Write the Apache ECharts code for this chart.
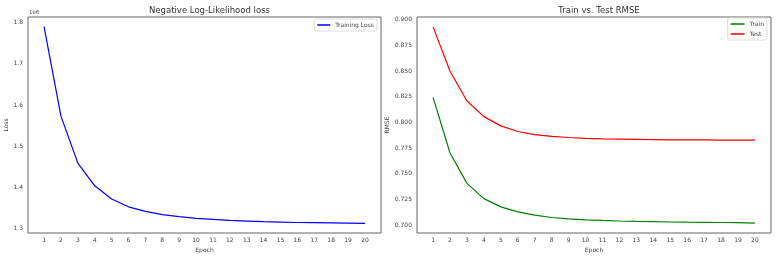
<!DOCTYPE html>
<html>
<head>
<meta charset="utf-8">
<script src="https://cdn.jsdelivr.net/npm/echarts@6/dist/echarts.min.js"></script>
<style>html,body{margin:0;padding:0;background:#fff}#c{width:777px;height:259px}</style>
</head>
<body>
<div id="c"></div>
<script>
const epochs = [1,2,3,4,5,6,7,8,9,10,11,12,13,14,15,16,17,18,19,20];
const trainingLoss = [1.790,1.573,1.459,1.404,1.372,1.353,1.342,1.334,1.329,1.325,1.3225,1.320,1.3185,1.317,1.316,1.315,1.3145,1.314,1.3135,1.313];
const trainRmse = [0.8243,0.7702,0.7406,0.7258,0.7177,0.7129,0.7097,0.7074,0.7060,0.7051,0.7045,0.7040,0.7036,0.7033,0.7030,0.7028,0.7027,0.7025,0.7024,0.7020];
const testRmse = [0.8930,0.8498,0.8208,0.8056,0.7966,0.7911,0.7880,0.7863,0.7853,0.7844,0.7840,0.7837,0.7834,0.7832,0.7830,0.7829,0.7829,0.7828,0.7828,0.7828];
const lossTicks = [1.3,1.4,1.5,1.6,1.7,1.8];
const rmseTicks = [0.700,0.725,0.750,0.775,0.800,0.825,0.850,0.875,0.900];

const font = 'DejaVu Sans';
const tickLabel = {fontFamily: font, fontSize: 6, color: '#444'};
function pairs(ys){ return epochs.map((e,i)=>[e, ys[i]]); }
function xAxis(gi){
  return {type:'value', gridIndex:gi, min:0.05, max:20.95,
    axisLine:{show:false}, axisTick:{show:false}, splitLine:{show:false},
    axisLabel:Object.assign({customValues:epochs, margin:4}, tickLabel),
    name:'Epoch', nameLocation:'middle', nameGap:12,
    nameTextStyle:{fontFamily:font, fontSize:6, color:'#444'}};
}
const chart = echarts.init(document.getElementById('c'), null, {renderer:'canvas'});
chart.setOption({
  animation:false,
  backgroundColor:'#fff',
  title:[
    {text:'Negative Log-Likelihood loss', left:204.5, top:1, textAlign:'center',
     textStyle:{fontFamily:font, fontSize:8.5, fontWeight:'normal', color:'#333'}},
    {text:'Train vs. Test RMSE', left:594, top:1, textAlign:'center',
     textStyle:{fontFamily:font, fontSize:8.5, fontWeight:'normal', color:'#333'}}
  ],
  grid:[
    {left:28, right:396, top:17, bottom:26, show:true, borderColor:'#666', borderWidth:1, backgroundColor:'#fff'},
    {left:417, right:6, top:17, bottom:26, show:true, borderColor:'#666', borderWidth:1, backgroundColor:'#fff'}
  ],
  xAxis:[xAxis(0), xAxis(1)],
  yAxis:[
    {type:'value', gridIndex:0, min:1.2895, max:1.8135,
     axisLine:{show:false}, axisTick:{show:false}, splitLine:{show:false},
     axisLabel:Object.assign({customValues:lossTicks, margin:5, formatter:v=>v.toFixed(1)}, tickLabel),
     name:'Loss', nameLocation:'middle', nameGap:16, nameRotate:90,
     nameTextStyle:{fontFamily:font, fontSize:6, color:'#444'}},
    {type:'value', gridIndex:1, min:0.6923, max:0.9026,
     axisLine:{show:false}, axisTick:{show:false}, splitLine:{show:false},
     axisLabel:Object.assign({customValues:rmseTicks, margin:5, formatter:v=>v.toFixed(3)}, tickLabel),
     name:'RMSE', nameLocation:'middle', nameGap:24, nameRotate:90,
     nameTextStyle:{fontFamily:font, fontSize:6, color:'#444'}}
  ],
  legend:[
    {data:['Training Loss'], right:400, top:19, orient:'vertical', icon:'rect',
     itemWidth:13, itemHeight:1.5, itemGap:4, padding:[3,3,3,3],
     borderColor:'#ddd', borderWidth:1, borderRadius:2,
     textStyle:{fontFamily:font, fontSize:6, color:'#444'}},
    {data:['Train','Test'], right:10, top:18, orient:'vertical', icon:'rect',
     itemWidth:14, itemHeight:1.5, itemGap:4, padding:[3,3,3,3],
     borderColor:'#ddd', borderWidth:1, borderRadius:2,
     textStyle:{fontFamily:font, fontSize:6, color:'#444'}}
  ],
  graphic:[
    {type:'text', left:29, top:10, style:{text:'1e6', fontFamily:font, fontSize:5.5, fill:'#444'}}
  ],
  series:[
    {name:'Training Loss', type:'line', xAxisIndex:0, yAxisIndex:0, data:pairs(trainingLoss),
     symbol:'none', lineStyle:{color:'#0000ff', width:1.2}, itemStyle:{color:'#0000ff'}},
    {name:'Train', type:'line', xAxisIndex:1, yAxisIndex:1, data:pairs(trainRmse),
     symbol:'none', lineStyle:{color:'#008000', width:1.2}, itemStyle:{color:'#008000'}},
    {name:'Test', type:'line', xAxisIndex:1, yAxisIndex:1, data:pairs(testRmse),
     symbol:'none', lineStyle:{color:'#ff0000', width:1.2}, itemStyle:{color:'#ff0000'}}
  ]
});
</script>
</body>
</html>
